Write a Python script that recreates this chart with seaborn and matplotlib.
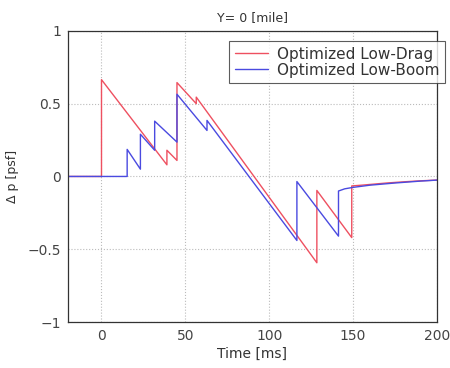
import matplotlib
matplotlib.use("Agg")
import matplotlib.pyplot as plt
import seaborn as sns
import pandas as pd

# pressure signatures (time in ms, dp in psf)
drag_t = [-20, 0, 0, 39, 39, 45, 45, 56.5, 56.5, 128.4, 128.4, 149.2, 149.2,
          155, 160, 170, 180, 190, 200]
drag_p = [0, 0, 0.665, 0.08, 0.18, 0.11, 0.645, 0.50, 0.545, -0.593, -0.096,
          -0.42, -0.065, -0.06, -0.055, -0.045, -0.037, -0.03, -0.025]

boom_t = [-20, 15.3, 15.3, 23.2, 23.2, 31.7, 31.7, 45, 45, 62.9, 62.9, 116.5,
          116.5, 141.3, 141.3, 145, 150, 160, 175, 190, 200]
boom_p = [0, 0, 0.186, 0.05, 0.29, 0.18, 0.38, 0.236, 0.565, 0.316, 0.385,
          -0.44, -0.035, -0.41, -0.1, -0.085, -0.075, -0.06, -0.045, -0.032, -0.025]

labels = ["Optimized Low-Drag", "Optimized Low-Boom"]
xticks = [0, 50, 100, 150, 200]
yticks = [-1, -0.5, 0, 0.5, 1]
ytick_labels = ["\u22121", "\u22120.5", "0", "0.5", "1"]

df = pd.concat([
    pd.DataFrame({"t": drag_t, "p": drag_p, "case": labels[0]}),
    pd.DataFrame({"t": boom_t, "p": boom_p, "case": labels[1]}),
])

sns.set_style("white")
plt.rcParams["font.family"] = ["DejaVu Sans"]

fig = plt.figure(figsize=(4.5, 3.68), dpi=100)
ax = fig.add_axes([0.151, 0.125, 0.82, 0.791])

sns.lineplot(data=df, x="t", y="p", hue="case", sort=False, estimator=None,
             palette=["#ee5060", "#4a4ae0"], linewidth=1.0, ax=ax)

ax.set_xlim(-20, 200)
ax.set_ylim(-1, 1)
ax.set_xticks(xticks)
ax.set_yticks(yticks)
ax.set_yticklabels(ytick_labels)
ax.tick_params(labelsize=10, colors="#444444", length=3, direction="in", pad=5)
ax.grid(True, linestyle=":", color="#bbbbbb", linewidth=0.8)
for s in ax.spines.values():
    s.set_color("#333333")
    s.set_linewidth(0.9)

ax.set_title("Y= 0 [mile]", fontsize=9, color="#333333", pad=7)
ax.set_xlabel("Time [ms]", fontsize=10, color="#333333", labelpad=3)
ax.set_ylabel("\u0394 p [psf]", fontsize=9, color="#333333", labelpad=6)

leg = ax.legend(loc="upper right", bbox_to_anchor=(1.043, 0.99), fontsize=11,
                frameon=True, fancybox=False, edgecolor="#333333",
                handlelength=2.2, borderpad=0.35, labelspacing=0.05,
                handletextpad=0.6)
leg.get_frame().set_linewidth(0.8)
for txt in leg.get_texts():
    txt.set_color("#333333")

fig.savefig("out.png", dpi=100)
